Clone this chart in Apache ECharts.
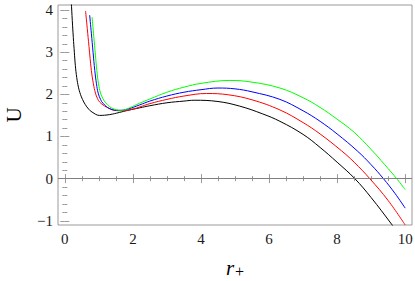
<!DOCTYPE html>
<html>
<head>
<meta charset="utf-8">
<script src="https://cdn.jsdelivr.net/npm/echarts@6/dist/echarts.min.js"></script>
<style>
html,body{margin:0;padding:0;background:#fff;}
#chart{width:415px;height:281px;}
</style>
</head>
<body>
<div id="chart"></div>
<script>
// ---- data ----
const xTicks = [0, 2, 4, 6, 8, 10];
const yTicks = [-1, 0, 1, 2, 3, 4];
const xMinorTicks = [0.5, 1, 1.5, 2.5, 3, 3.5, 4.5, 5, 5.5, 6.5, 7, 7.5, 8.5, 9, 9.5];
const yMinorTicks = [-0.8, -0.6, -0.4, -0.2, 0.2, 0.4, 0.6, 0.8, 1.2, 1.4, 1.6, 1.8,
                     2.2, 2.4, 2.6, 2.8, 3.2, 3.4, 3.6, 3.8];
const xLabel = 'r';
const yLabel = 'U';

const blackR = [0.17, 0.19, 0.22, 0.25, 0.28, 0.31, 0.35, 0.40, 0.46, 0.52, 0.6, 0.7, 0.8, 1.02, 1.32, 1.6, 1.85, 2.2, 2.5, 3.0, 3.5, 3.8, 4.5, 5.14, 5.8, 6.32, 7.0, 7.5, 8.0, 8.52, 9.0, 9.6, 9.7];
const blackU = [4.5, 4.2, 3.75, 3.35, 3.0, 2.68, 2.4, 2.17, 2.0, 1.88, 1.76, 1.65, 1.58, 1.50, 1.52, 1.57, 1.62, 1.68, 1.73, 1.80, 1.84, 1.86, 1.83, 1.72, 1.54, 1.36, 1.05, 0.74, 0.39, 0.0, -0.45, -1.08, -1.2];

const redR = [0.61, 0.66, 0.71, 0.78, 0.84, 0.9, 0.96, 1.02, 1.12, 1.22, 1.46, 1.7, 2.0, 2.2, 2.5, 3.0, 3.5, 4.16, 4.8, 5.5, 6.32, 7.0, 7.5, 8.13, 8.5, 8.96, 9.5, 10.0];
const redU = [3.98, 3.56, 3.14, 2.57, 2.25, 2.03, 1.90, 1.82, 1.75, 1.70, 1.62, 1.61, 1.65, 1.70, 1.78, 1.88, 1.96, 2.02, 1.99, 1.87, 1.63, 1.33, 1.06, 0.66, 0.39, 0.0, -0.52, -1.1];

const blueR = [0.73, 0.78, 0.83, 0.88, 0.93, 0.98, 1.05, 1.12, 1.32, 1.6, 1.85, 2.2, 2.5, 3.0, 3.5, 4.0, 4.5, 5.0, 5.5, 6.32, 7.0, 7.5, 8.0, 8.59, 9.0, 9.36, 9.7, 10.0];
const blueU = [3.88, 3.45, 3.0, 2.57, 2.25, 2.03, 1.88, 1.79, 1.66, 1.62, 1.65, 1.75, 1.84, 1.96, 2.05, 2.11, 2.15, 2.13, 2.06, 1.88, 1.61, 1.36, 1.06, 0.66, 0.33, 0.0, -0.35, -0.70];

const greenR = [0.80, 0.85, 0.9, 0.94, 0.99, 1.05, 1.12, 1.2, 1.37, 1.66, 1.9, 2.2, 2.5, 3.0, 3.5, 4.0, 4.85, 5.5, 6.32, 7.0, 7.5, 8.0, 8.5, 8.99, 9.4, 9.77, 10.0];
const greenU = [3.83, 3.38, 2.93, 2.57, 2.25, 2.03, 1.90, 1.80, 1.68, 1.62, 1.68, 1.79, 1.89, 2.05, 2.17, 2.26, 2.33, 2.29, 2.15, 1.92, 1.69, 1.41, 1.10, 0.70, 0.33, -0.02, -0.26];

// ---- chart ----
const pairs = (xs, ys) => xs.map((x, i) => [x, ys[i]]);
const X_MIN = -0.2, X_MAX = 10.2, Y_MIN = -1.1, Y_MAX = 4.12;
const FRAME = '#9a9a9a';
const FONT = 'Liberation Serif';

function axis(kind, position, values, len, labels) {
  return {
    type: 'value',
    position: position,
    min: kind === 'x' ? X_MIN : Y_MIN,
    max: kind === 'x' ? X_MAX : Y_MAX,
    axisLine: { show: false },
    splitLine: { show: false },
    axisTick: { show: true, inside: true, length: len, customValues: values,
                lineStyle: { color: FRAME, width: 1 } },
    axisLabel: labels ? {
      show: true, customValues: values, fontFamily: FONT, fontSize: 15,
      color: '#1a1a1a', margin: kind === 'x' ? 6 : 5,
      formatter: v => String(v).replace('-', '\u2212')
    } : { show: false },
    silent: true
  };
}

const xAxes = [
  axis('x', 'bottom', xTicks, 4.5, true),
  axis('x', 'bottom', xMinorTicks, 2.5, false),
  axis('x', 'top', xTicks, 4.5, false),
  axis('x', 'top', xMinorTicks, 2.5, false)
];
xAxes[0].name = '{r|' + xLabel + '}{p|+}';
xAxes[0].nameLocation = 'middle';
xAxes[0].nameGap = 32;
xAxes[0].nameTextStyle = {
  fontFamily: FONT,
  lineHeight: 22,
  rich: {
    r: { fontFamily: FONT, fontStyle: 'italic', fontSize: 21, color: '#000', lineHeight: 22, verticalAlign: 'top' },
    p: { fontFamily: FONT, fontSize: 16, color: '#000', lineHeight: 22, verticalAlign: 'bottom', padding: [0, 0, 0, 1] }
  }
};

const yAxes = [
  axis('y', 'left', yTicks, 4.5, true),
  axis('y', 'left', yMinorTicks, 2.5, false),
  axis('y', 'right', yTicks, 4.5, false),
  axis('y', 'right', yMinorTicks, 2.5, false)
];
yAxes[0].name = yLabel;
yAxes[0].nameLocation = 'middle';
yAxes[0].nameRotate = 90;
yAxes[0].nameGap = 34;
yAxes[0].nameTextStyle = { fontFamily: FONT, fontSize: 21, color: '#000' };

function curve(name, xs, ys, color, extra) {
  return Object.assign({
    name: name,
    type: 'line',
    data: pairs(xs, ys),
    showSymbol: false,
    smooth: 0.4,
    clip: true,
    silent: true,
    lineStyle: { color: color, width: 1 },
    itemStyle: { color: color },
    z: 3
  }, extra || {});
}

const chart = echarts.init(document.getElementById('chart'), null, { renderer: 'svg' });
chart.setOption({
  animation: false,
  backgroundColor: '#fff',
  textStyle: { fontFamily: FONT },
  grid: { left: 58, right: 3, top: 5, bottom: 56, show: true, borderColor: FRAME, borderWidth: 1,
          backgroundColor: 'transparent', containLabel: false, outerBoundsMode: 'none' },
  xAxis: xAxes,
  yAxis: yAxes,
  series: [
    curve('black', blackR, blackU, '#000000', {
      markLine: {
        silent: true, symbol: 'none', animation: false,
        label: { show: false },
        lineStyle: { color: '#808080', width: 1, type: 'solid' },
        data: [{ yAxis: 0 }]
      }
    }),
    curve('red', redR, redU, '#ff0000'),
    curve('blue', blueR, blueU, '#0000ff'),
    curve('green', greenR, greenU, '#00ff00')
  ]
});
</script>
</body>
</html>
